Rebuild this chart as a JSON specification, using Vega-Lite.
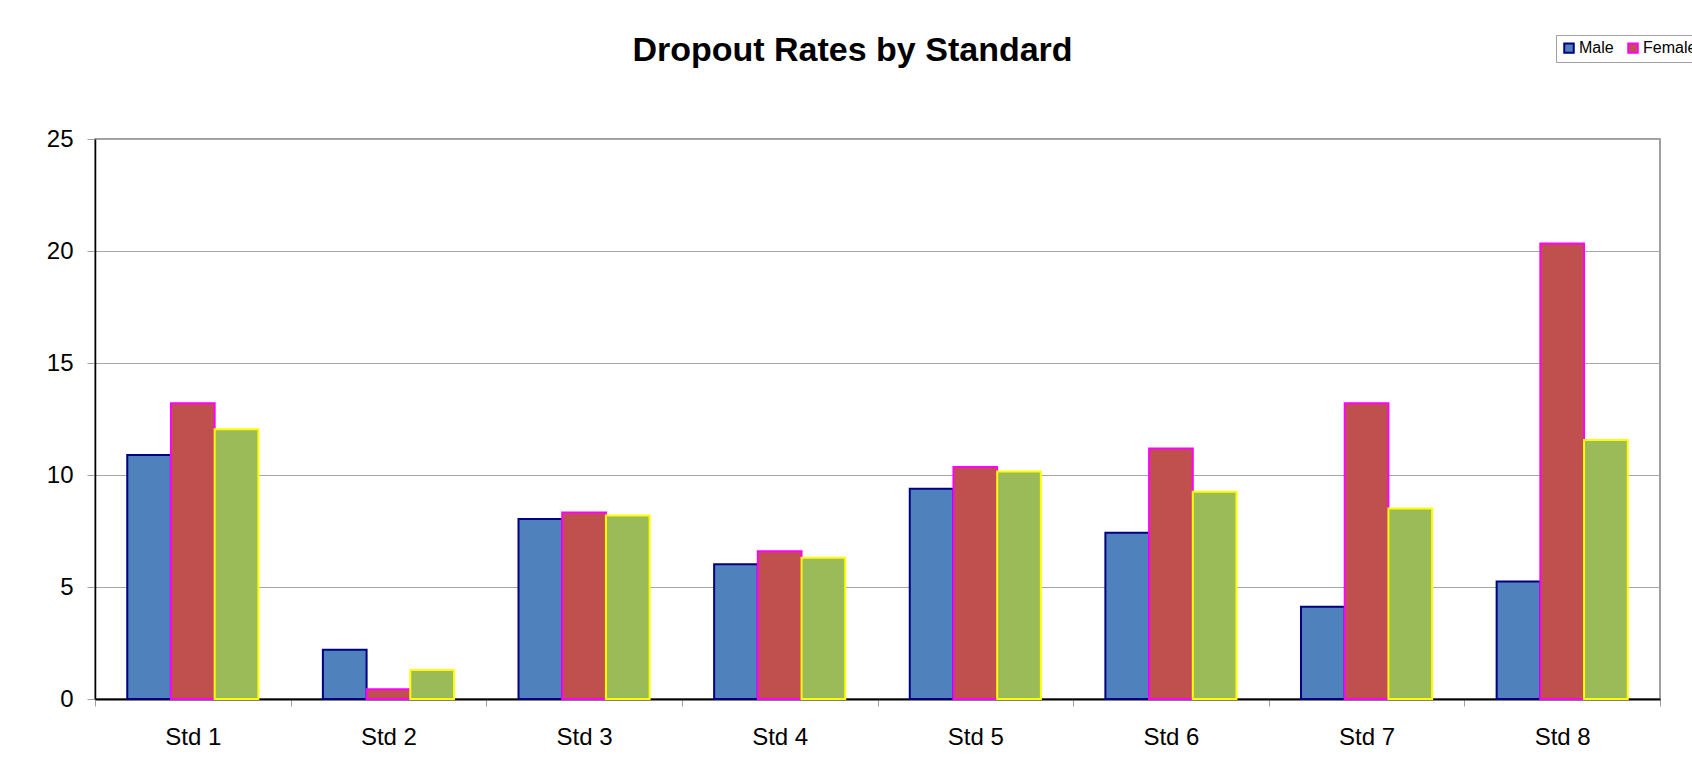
{
  "$schema": "https://vega.github.io/schema/vega-lite/v6.json",
  "width": 1565,
  "height": 560,
  "autosize": {"type": "none"},
  "padding": {"left": 95, "top": 139, "right": 32, "bottom": 77},
  "background": "white",
  "title": {
    "text": "Dropout Rates by Standard",
    "font": "Liberation Sans",
    "fontSize": 34,
    "fontWeight": "bold",
    "color": "black",
    "anchor": "middle",
    "dx": -25,
    "baseline": "alphabetic",
    "offset": -60
  },
  "data": {
    "values": [
      {"std": "Std 1", "gender": "Male", "rate": 10.89},
      {"std": "Std 1", "gender": "Female", "rate": 13.2},
      {"std": "Std 1", "gender": "Total", "rate": 12.04},
      {"std": "Std 2", "gender": "Male", "rate": 2.2},
      {"std": "Std 2", "gender": "Female", "rate": 0.43},
      {"std": "Std 2", "gender": "Total", "rate": 1.3},
      {"std": "Std 3", "gender": "Male", "rate": 8.04},
      {"std": "Std 3", "gender": "Female", "rate": 8.33},
      {"std": "Std 3", "gender": "Total", "rate": 8.19},
      {"std": "Std 4", "gender": "Male", "rate": 6.02},
      {"std": "Std 4", "gender": "Female", "rate": 6.6},
      {"std": "Std 4", "gender": "Total", "rate": 6.31},
      {"std": "Std 5", "gender": "Male", "rate": 9.39},
      {"std": "Std 5", "gender": "Female", "rate": 10.36},
      {"std": "Std 5", "gender": "Total", "rate": 10.16},
      {"std": "Std 6", "gender": "Male", "rate": 7.42},
      {"std": "Std 6", "gender": "Female", "rate": 11.18},
      {"std": "Std 6", "gender": "Total", "rate": 9.25},
      {"std": "Std 7", "gender": "Male", "rate": 4.12},
      {"std": "Std 7", "gender": "Female", "rate": 13.2},
      {"std": "Std 7", "gender": "Total", "rate": 8.5},
      {"std": "Std 8", "gender": "Male", "rate": 5.24},
      {"std": "Std 8", "gender": "Female", "rate": 20.34},
      {"std": "Std 8", "gender": "Total", "rate": 11.56}
    ]
  },
  "mark": {"type": "bar", "strokeWidth": 2},
  "encoding": {
    "x": {
      "field": "std",
      "type": "nominal",
      "scale": {"paddingInner": 0, "paddingOuter": 0},
      "axis": {
        "title": null,
        "labelAngle": 0,
        "tickBand": "extent",
        "labelFont": "Liberation Sans",
        "labelFontSize": 24,
        "labelColor": "black",
        "labelPadding": 19,
        "tickSize": 7,
        "tickColor": "#a0a0a0",
        "domainColor": "black",
        "domainWidth": 2
      }
    },
    "xOffset": {
      "field": "gender",
      "type": "nominal",
      "sort": ["Male", "Female", "Total"],
      "scale": {"paddingInner": 0, "paddingOuter": 0.738}
    },
    "y": {
      "field": "rate",
      "type": "quantitative",
      "scale": {"domain": [0, 25], "nice": false},
      "axis": {
        "title": null,
        "values": [0, 5, 10, 15, 20, 25],
        "grid": true,
        "gridColor": "#a6a6a6",
        "gridWidth": 1,
        "labelFont": "Liberation Sans",
        "labelFontSize": 24,
        "labelColor": "black",
        "labelPadding": 14,
        "tickSize": 8,
        "tickColor": "#a0a0a0",
        "domainColor": "black",
        "domainWidth": 1.5
      }
    },
    "fill": {
      "field": "gender",
      "type": "nominal",
      "scale": {"domain": ["Male", "Female", "Total"], "range": ["#4F81BD", "#C0504D", "#9BBB59"]},
      "legend": {
        "title": null,
        "orient": "none",
        "legendX": 1461,
        "legendY": -104,
        "direction": "horizontal",
        "symbolType": "square",
        "symbolSize": 90,
        "symbolStrokeWidth": 2,
        "labelFont": "Liberation Sans",
        "labelFontSize": 16,
        "labelColor": "black",
        "labelOffset": 2,
        "columnPadding": 10,
        "padding": 5,
        "strokeColor": "#a0a0a0",
        "fillColor": "white"
      }
    },
    "stroke": {
      "field": "gender",
      "type": "nominal",
      "scale": {"domain": ["Male", "Female", "Total"], "range": ["#000080", "#FF00FF", "#FFFF00"]}
    }
  },
  "config": {
    "view": {"stroke": "#808080", "strokeWidth": 1.5}
  }
}
